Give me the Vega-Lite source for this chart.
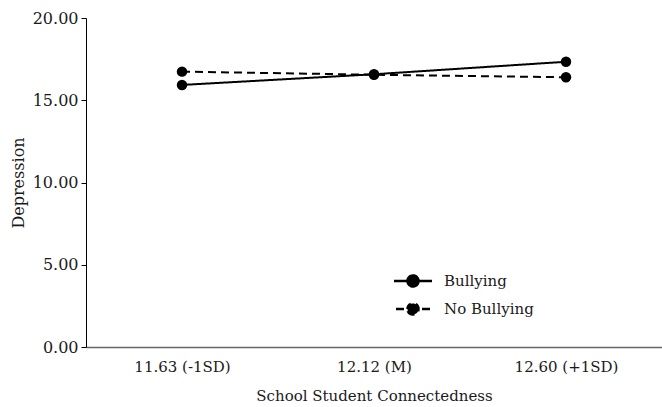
{
  "$schema": "https://vega.github.io/schema/vega-lite/v6.json",
  "width": 576,
  "height": 329,
  "autosize": {"type": "none"},
  "padding": {"left": 86, "top": 18, "right": 0, "bottom": 60},
  "background": "white",
  "config": {
    "view": {"stroke": null},
    "font": "DejaVu Serif",
    "axis": {"labelFont": "DejaVu Serif", "titleFont": "DejaVu Serif", "labelColor": "#1a1a1a", "titleColor": "#1a1a1a", "grid": false, "labelFontSize": 15, "titleFontSize": 15, "titleFontWeight": "normal"},
    "legend": {"labelFont": "DejaVu Serif", "labelFontSize": 15, "labelColor": "#1a1a1a", "padding": 0}
  },
  "data": {
    "values": [
      {"group": "Bullying", "conn": "11.63 (-1SD)", "value": 15.93},
      {"group": "Bullying", "conn": "12.12 (M)", "value": 16.58},
      {"group": "Bullying", "conn": "12.60 (+1SD)", "value": 17.34},
      {"group": "No Bullying", "conn": "11.63 (-1SD)", "value": 16.74},
      {"group": "No Bullying", "conn": "12.12 (M)", "value": 16.55},
      {"group": "No Bullying", "conn": "12.60 (+1SD)", "value": 16.40}
    ]
  },
  "encoding": {
    "x": {
      "field": "conn", "type": "ordinal",
      "sort": ["11.63 (-1SD)", "12.12 (M)", "12.60 (+1SD)"],
      "scale": {"type": "point", "padding": 0.5},
      "axis": {"title": "School Student Connectedness", "labelAngle": 0, "ticks": false, "domainColor": "#666", "domainWidth": 1.5, "labelPadding": 12, "titlePadding": 14}
    },
    "y": {
      "field": "value", "type": "quantitative",
      "scale": {"domain": [0, 20], "nice": false, "zero": true},
      "axis": {"title": "Depression", "values": [0, 5, 10, 15, 20], "format": ".2f", "domainColor": "black", "tickColor": "black", "tickSize": 5, "labelPadding": 3, "titlePadding": 6, "labelFontSize": 16, "titleFontSize": 16}
    }
  },
  "layer": [
    {
      "mark": {"type": "line", "color": "black", "strokeWidth": 2},
      "encoding": {
        "strokeDash": {
          "field": "group", "type": "nominal",
          "scale": {"domain": ["Bullying", "No Bullying"], "range": [[1, 0], [8, 5]]},
          "legend": {
            "title": null, "orient": "none", "legendX": 316, "legendY": 252,
            "symbolType": "M -2 0 L 2 0 M -0.58 0 A 0.58 0.58 0 1 0 0.58 0 A 0.58 0.58 0 1 0 -0.58 0 Z",
            "symbolSize": 361, "symbolStrokeColor": "black", "symbolFillColor": "black", "symbolStrokeWidth": 2.5,
            "symbolDashOffset": 11,
            "labelOffset": 20, "rowPadding": 6
          }
        }
      }
    },
    {
      "mark": {"type": "point", "filled": true, "color": "black", "size": 110, "opacity": 1},
      "encoding": {"detail": {"field": "group"}}
    }
  ]
}
